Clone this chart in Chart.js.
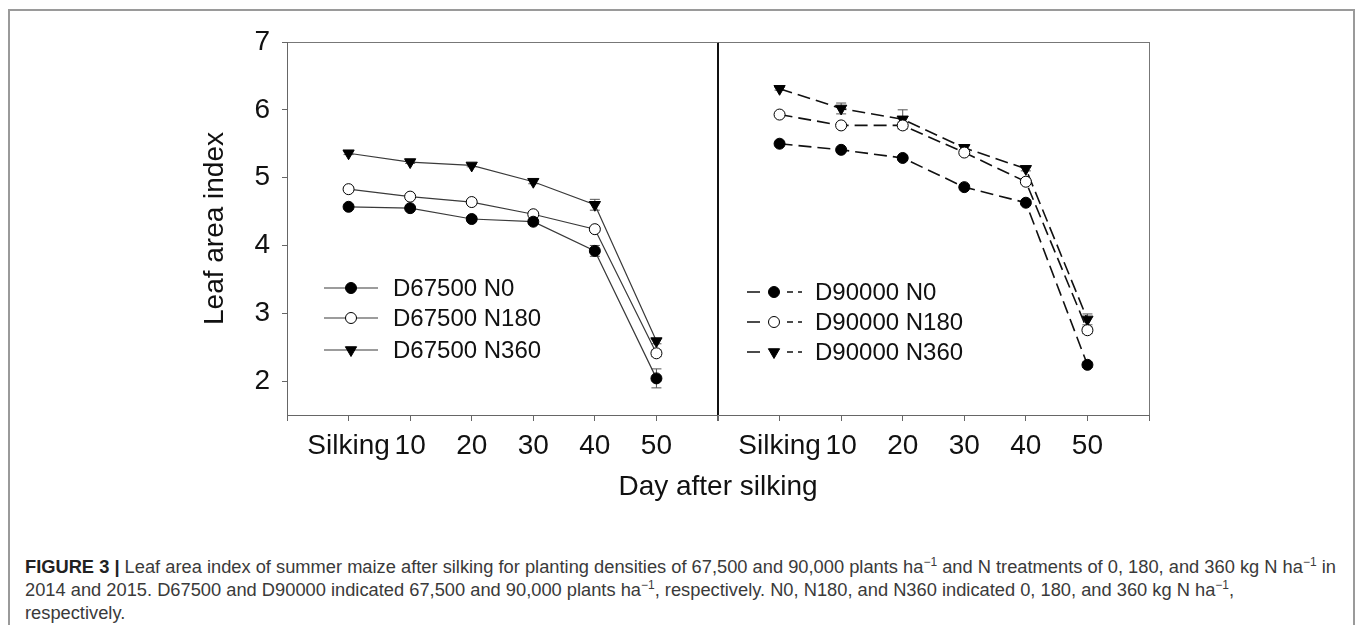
<!DOCTYPE html>
<html>
<head>
<meta charset="utf-8">
<script src="https://cdn.jsdelivr.net/npm/chart.js@4.4.0/dist/chart.umd.min.js"></script>
<style>
  body { margin: 0; background: #fff; width: 1357px; height: 625px; overflow: hidden; position: relative;
         font-family: "Liberation Sans", Arial, sans-serif; }
  #frame { position: absolute; left: 8px; top: 9px; width: 1343px; height: 700px; border: 2px solid #9a9a9a; }
  #wrap { position: absolute; left: 0; top: 0; width: 1357px; height: 525px; }
  #caption { position: absolute; left: 25px; top: 555px; font-size: 18.3px; line-height: 23px; color: #3a3a3a;
             white-space: nowrap; }
  #caption b { color: #222; }
  sup { font-size: 12px; vertical-align: 7px; line-height: 0; }
</style>
</head>
<body>
<div id="frame"></div>
<div id="wrap"><canvas id="lai"></canvas></div>
<div id="caption">
  <b>FIGURE 3 |</b> Leaf area index of summer maize after silking for planting densities of 67,500 and 90,000 plants ha<sup>−1</sup> and N treatments of 0, 180, and 360 kg N ha<sup>−1</sup> in<br>
  2014 and 2015. D67500 and D90000 indicated 67,500 and 90,000 plants ha<sup>−1</sup>, respectively. N0, N180, and N360 indicated 0, 180, and 360 kg N ha<sup>−1</sup>,<br>
  respectively.
</div>
<script>
// tick labels of one panel (days after silking)
const dayLabels = ['Silking', '10', '20', '30', '40', '50'];

// D67500 panel
const d67500N0   = [4.57, 4.55, 4.39, 4.35, 3.92, 2.04];
const d67500N180 = [4.83, 4.72, 4.64, 4.46, 4.24, 2.41];
const d67500N360 = [5.36, 5.23, 5.18, 4.94, 4.60, 2.59];
const e67500N0   = [0.03, 0.03, 0.03, 0.03, 0.08, 0.14];
const e67500N180 = [0.02, 0.02, 0.02, 0.03, 0.03, 0.05];
const e67500N360 = [0.02, 0.02, 0.02, 0.03, 0.08, 0.04];

// D90000 panel
const d90000N0   = [5.50, 5.41, 5.29, 4.86, 4.63, 2.24];
const d90000N180 = [5.93, 5.77, 5.77, 5.37, 4.94, 2.75];
const d90000N360 = [6.31, 6.02, 5.86, 5.44, 5.13, 2.91];
const e90000N0   = [0.02, 0.02, 0.03, 0.03, 0.03, 0.04];
const e90000N180 = [0.03, 0.03, 0.05, 0.03, 0.03, 0.05];
const e90000N360 = [0.02, 0.08, 0.14, 0.03, 0.03, 0.08];

const FONT = '"Liberation Sans", Arial, sans-serif';
Chart.defaults.font.family = FONT;

// one category axis holds both panels: blank slot, 6 days, divider, 6 days, blank slot
const labels = ['', ...dayLabels, '', ...dayLabels, ''];
const left = vals => [null, ...vals, ...Array(8).fill(null)];
const right = vals => [...Array(8).fill(null), ...vals, null];

const markers = {
  filled: { pointStyle: 'circle', pointRadius: 5.5, pointBackgroundColor: '#000', pointRotation: 0 },
  open:   { pointStyle: 'circle', pointRadius: 5.5, pointBackgroundColor: '#fff', pointRotation: 0 },
  tri:    { pointStyle: 'triangle', pointRadius: 6.5, pointBackgroundColor: '#000', pointRotation: 180 }
};

function series(label, data, errors, dashed, marker) {
  return Object.assign({
    label: label,
    data: data,
    errors: errors,
    borderColor: dashed ? '#111' : '#3a3a3a',
    borderWidth: dashed ? 1.6 : 1.2,
    borderDash: dashed ? [13, 6] : [],
    // legend sample: long dash, marker, two short dashes
    legendDash: dashed ? [13, 27, 6, 5, 6, 40] : [],
    pointBorderColor: '#000',
    pointBorderWidth: 1,
    tension: 0,
    spanGaps: false
  }, markers[marker]);
}

const datasets = [
  series('D67500 N0',   left(d67500N0),    left(e67500N0),    false, 'filled'),
  series('D67500 N180', left(d67500N180),  left(e67500N180),  false, 'open'),
  series('D67500 N360', left(d67500N360),  left(e67500N360),  false, 'tri'),
  series('D90000 N0',   right(d90000N0),   right(e90000N0),   true,  'filled'),
  series('D90000 N180', right(d90000N180), right(e90000N180), true,  'open'),
  series('D90000 N360', right(d90000N360), right(e90000N360), true,  'tri')
];

// error bars, drawn before the markers so the markers sit on top
const errorBars = {
  id: 'errorBars',
  beforeDatasetsDraw(chart) {
    const { ctx, scales: { x, y } } = chart;
    ctx.save();
    ctx.strokeStyle = '#555';
    ctx.lineWidth = 1;
    chart.data.datasets.forEach(ds => {
      ds.data.forEach((v, j) => {
        if (v == null) return;
        const e = ds.errors[j];
        const px = x.getPixelForValue(j);
        const top = y.getPixelForValue(v + e), bot = y.getPixelForValue(v - e);
        ctx.beginPath();
        ctx.moveTo(px, top); ctx.lineTo(px, bot);
        ctx.moveTo(px - 5, top); ctx.lineTo(px + 5, top);
        ctx.moveTo(px - 5, bot); ctx.lineTo(px + 5, bot);
        ctx.stroke();
      });
    });
    ctx.restore();
  }
};

// in-panel legends, offsets measured from the panel's left edge / chart top
const legendBoxes = [
  { items: [0, 1, 2], anchor: 0, lineFrom: 37, lineTo: 91, marker: 64, text: 106, rows: [246, 276, 308] },
  { items: [3, 4, 5], anchor: 7, lineFrom: 29, lineTo: 84, marker: 56, text: 97, rows: [250, 280, 310] }
];

const panelLegend = {
  id: 'panelLegend',
  afterDraw(chart) {
    const { ctx, chartArea, scales: { x } } = chart;
    ctx.save();
    legendBoxes.forEach(box => {
      const x0 = x.getPixelForValue(box.anchor);
      box.items.forEach((di, r) => {
        const ds = chart.data.datasets[di];
        const yy = chartArea.top + box.rows[r];
        ctx.strokeStyle = ds.borderColor;
        ctx.lineWidth = ds.borderWidth;
        ctx.setLineDash(ds.legendDash);
        ctx.beginPath();
        ctx.moveTo(x0 + box.lineFrom, yy);
        ctx.lineTo(x0 + box.lineTo, yy);
        ctx.stroke();
        ctx.setLineDash([]);
        ctx.fillStyle = ds.pointBackgroundColor;
        ctx.strokeStyle = ds.pointBorderColor;
        ctx.lineWidth = ds.pointBorderWidth;
        Chart.helpers.drawPoint(ctx, {
          pointStyle: ds.pointStyle, rotation: ds.pointRotation,
          radius: ds.pointRadius, borderWidth: ds.pointBorderWidth
        }, x0 + box.marker, yy);
        ctx.fillStyle = '#111';
        ctx.font = '24px ' + FONT;
        ctx.textBaseline = 'middle';
        ctx.textAlign = 'left';
        ctx.fillText(ds.label, x0 + box.text, yy + 1);
      });
    });
    ctx.restore();
  }
};

new Chart(document.getElementById('lai'), {
  type: 'line',
  data: { labels: labels, datasets: datasets },
  plugins: [errorBars, panelLegend],
  options: {
    responsive: true,
    maintainAspectRatio: false,
    animation: false,
    layout: { padding: { left: 190, right: 208, top: 42, bottom: 0 } },
    plugins: { legend: { display: false }, tooltip: { enabled: false } },
    scales: {
      x: {
        type: 'category',
        offset: false,
        grid: {
          drawOnChartArea: true,
          color: c => c.index === 7 ? '#111' : (c.index === 14 ? '#777' : 'rgba(0,0,0,0)'),
          lineWidth: c => c.index === 7 ? 2 : 1,
          tickColor: '#666',
          tickLength: 6
        },
        border: { color: '#666', width: 1 },
        ticks: { color: '#111', font: { size: 28 }, padding: 8, maxRotation: 0, autoSkip: false },
        title: { display: true, text: 'Day after silking', color: '#111', font: { size: 28 },
                 padding: { top: 0, bottom: 21 } },
        afterFit: s => { s.height = 110; }
      },
      y: {
        min: 1.5,
        max: 7,
        grid: {
          color: c => c.tick && c.tick.value === 7 ? '#777' : 'rgba(0,0,0,0)',
          tickColor: '#666',
          tickLength: 5
        },
        border: { color: '#666', width: 1 },
        ticks: { stepSize: 1, includeBounds: false, color: '#111', font: { size: 28 }, padding: 12 },
        title: { display: true, text: 'Leaf area index', color: '#111', font: { size: 28 },
                 padding: { top: 8, bottom: 0 } },
        afterFit: s => { s.width = 97; }
      }
    }
  }
});
</script>
</body>
</html>
